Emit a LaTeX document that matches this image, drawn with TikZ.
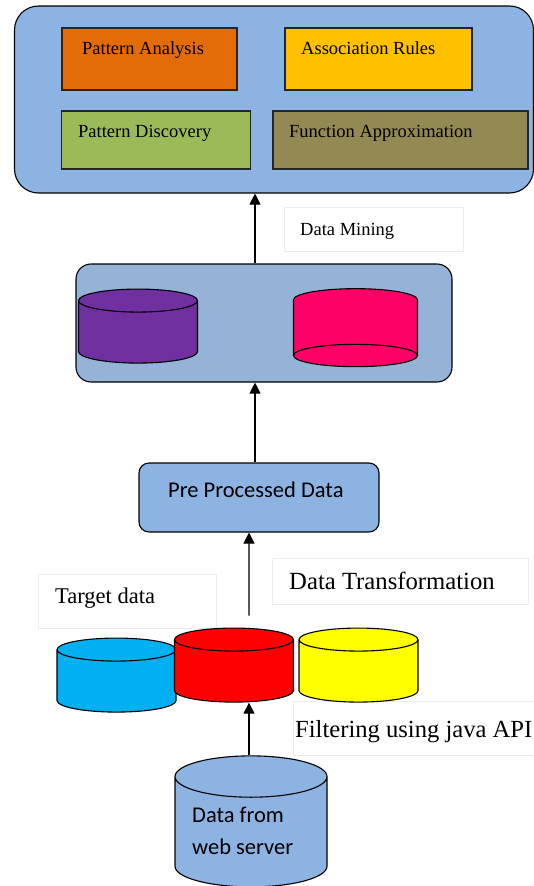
\documentclass[tikz,border=0pt]{standalone}
\usepackage{fontspec}
\setmainfont{Liberation Serif}
\newfontfamily\calibrifont{Carlito}
\usetikzlibrary{shapes.geometric,arrows.meta}
\definecolor{boxblue}{HTML}{8DB3E2}
\definecolor{midblue}{HTML}{95B3D7}
\definecolor{orangebox}{HTML}{E36C09}
\definecolor{amberbox}{HTML}{FFC000}
\definecolor{greenbox}{HTML}{9BBB59}
\definecolor{olivebox}{HTML}{938953}
\definecolor{skycyl}{HTML}{00B0F0}
\definecolor{purplecyl}{HTML}{7030A0}
\definecolor{pinkcyl}{HTML}{FF0066}
\definecolor{redcyl}{HTML}{FF0000}
\definecolor{yellowcyl}{HTML}{FFFF00}
\tikzset{
	roundbox/.style={draw=black,line width=1.1pt,rounded corners=#1,inner sep=0pt},
	algobox/.style={draw=black!85,line width=1.2pt,inner sep=0pt},
	notebox/.style={draw=black!7,line width=0.7pt,fill=white,inner sep=0pt},
	storecyl/.style={shape=cylinder,shape border rotate=90,draw=black,line width=1.1pt,cylinder uses custom fill,minimum width=119pt,cylinder body fill=#1,cylinder end fill=#1,shape aspect=3.45},
	serifword/.style={anchor=base west,inner sep=0pt,font=\fontsize{#1}{#1}\selectfont},
	calibriword/.style={anchor=base west,inner sep=0pt,font=\calibrifont\fontsize{22.5}{32}\selectfont,align=left},
	flowarrow/.style={-{Triangle[length=11pt,width=11pt]},line width=1.1pt}
}
\begin{document}
\begin{tikzpicture}[x=1pt,y=-1pt]
\useasboundingbox (0,0) rectangle (534,886);
\clip (0,0) rectangle (534,886);
\node[roundbox=24pt,fill=boxblue,minimum width=519pt,minimum height=187pt] (mining) at (274,99.5) {};
\node[algobox,fill=orangebox,minimum width=175pt,minimum height=62pt] (analysis) at (149.5,59) {};
\node[algobox,fill=amberbox,minimum width=187pt,minimum height=62pt] (rules) at (378.5,59) {};
\node[algobox,fill=greenbox,minimum width=189pt,minimum height=58pt] (discovery) at (156,140) {};
\node[algobox,fill=olivebox,minimum width=255pt,minimum height=58pt] (approx) at (400.5,140) {};
\node[serifword=18.5] (analysistext) at (82,54) {Pattern Analysis};
\node[serifword=18.5] (rulestext) at (301,54) {Association Rules};
\node[serifword=18.5] (discoverytext) at (78,137.5) {Pattern Discovery};
\node[serifword=18.5] (approxtext) at (289,137.5) {Function Approximation};

\node[notebox,minimum width=179pt,minimum height=44pt] (miningnote) at (373.5,229) {};
\node[serifword=18.5] (miningtext) at (300,235) {Data Mining};

\node[roundbox=15pt,fill=midblue,minimum width=376pt,minimum height=118pt] (stores) at (264,323) {};
\node[storecyl=purplecyl,minimum height=74pt] (purplestore) at (138,334) {};
\node[storecyl=pinkcyl,shape border rotate=270,minimum width=124pt,minimum height=78pt,shape aspect=3.35] (pinkstore) at (355.5,320) {};

\node[roundbox=10pt,fill=boxblue,minimum width=240pt,minimum height=69pt] (preproc) at (259,497.5) {};
\node[calibriword] (preproctext) at (168,497) {Pre Processed Data};

\node[notebox,minimum width=178pt,minimum height=54pt] (targetnote) at (127,601) {};
\node[serifword=22.5] (targettext) at (55,603) {Target data};
\node[notebox,minimum width=256pt,minimum height=46pt] (transnote) at (400,581) {};
\node[serifword=24.7] (transtext) at (289,589) {Data Transformation};
\node[notebox,minimum width=241pt,minimum height=54pt] (filternote) at (413.5,728) {};
\node[serifword=24.6] (filtertext) at (295,737) {Filtering using java API};

\node[storecyl=skycyl,minimum height=74pt] (bluestore) at (116.5,683) {};
\node[storecyl=redcyl,minimum height=74pt] (redstore) at (234,673) {};
\node[storecyl=yellowcyl,minimum height=74pt] (yellowstore) at (358.5,673) {};
\node[storecyl=boxblue,minimum width=152pt,minimum height=131pt,shape aspect=6.2] (webstore) at (251,835) {};
\node[calibriword] (webtext) at (192,854) {Data from\\web server};

\draw[flowarrow] ([xshift=-2pt]webstore.north) -- ([xshift=-2pt]webstore.north |- redstore.south);
\draw[flowarrow] ([xshift=15pt,yshift=12pt]redstore.north) -- ([xshift=-10pt]preproc.south);
\draw[flowarrow] ([xshift=-4pt]preproc.north) -- ([xshift=-9pt]stores.south);
\draw[flowarrow] ([xshift=-9pt]stores.north) -- ([xshift=-19pt]mining.south);
\end{tikzpicture}
\end{document}
